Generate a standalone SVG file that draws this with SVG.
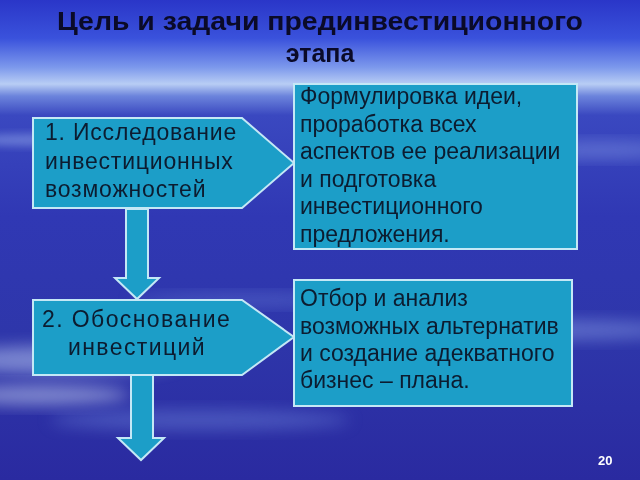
<svg xmlns="http://www.w3.org/2000/svg" width="640" height="480" viewBox="0 0 640 480">
<defs>
<linearGradient id="bg" x1="0" y1="0" x2="0" y2="1">
<stop offset="0" stop-color="#2a36c8"/>
<stop offset="0.08" stop-color="#3a52dc"/>
<stop offset="0.14" stop-color="#7c98ec"/>
<stop offset="0.175" stop-color="#b8cdf4"/>
<stop offset="0.2" stop-color="#6c84dc"/>
<stop offset="0.24" stop-color="#3a48c0"/>
<stop offset="0.45" stop-color="#3038b4"/>
<stop offset="0.7" stop-color="#2e36aa"/>
<stop offset="1" stop-color="#2a2aa0"/>
</linearGradient>
<filter id="blur" x="-50%" y="-50%" width="200%" height="200%"><feGaussianBlur stdDeviation="8"/></filter>
<filter id="blur2" x="-50%" y="-50%" width="200%" height="200%"><feGaussianBlur stdDeviation="4"/></filter>
<style>
.box{fill:#1c9ec8;stroke:#c4e8f6;stroke-width:2}
.t{font-family:"Liberation Sans",Arial,sans-serif;font-size:23px;fill:#0c1c30}
.w{letter-spacing:0.8px}
.w2{letter-spacing:1.4px}
.title{font-family:"Liberation Sans",Arial,sans-serif;font-size:25px;font-weight:bold;fill:#0a0a28;text-anchor:middle}
.num{font-family:"Liberation Sans",Arial,sans-serif;font-size:13px;font-weight:bold;fill:#ffffff}
</style>
</defs>
<rect width="640" height="480" fill="url(#bg)"/>
<g opacity="0.5">
<ellipse cx="60" cy="360" rx="120" ry="14" fill="#c8d8f8" filter="url(#blur)"/>
<ellipse cx="40" cy="395" rx="90" ry="10" fill="#d8e4fa" filter="url(#blur)"/>
<ellipse cx="560" cy="330" rx="120" ry="10" fill="#8aa0e8" filter="url(#blur)"/>
<ellipse cx="600" cy="150" rx="80" ry="8" fill="#8aa0e8" filter="url(#blur)"/>
<ellipse cx="30" cy="140" rx="60" ry="6" fill="#9ab0ee" filter="url(#blur2)"/>
<ellipse cx="250" cy="300" rx="120" ry="6" fill="#6a80d8" filter="url(#blur)"/>
<ellipse cx="200" cy="420" rx="150" ry="10" fill="#6a80d8" filter="url(#blur)"/>
</g>
<g id="title">
<text class="title" x="320" y="30" textLength="526" lengthAdjust="spacingAndGlyphs">Цель и задачи прединвестиционного</text>
<text class="title" x="320" y="62">этапа</text>
</g>
<g id="connectors">
<polygon class="box" points="126,209 148,209 148,278 159,278 137,299 115,278 126,278"/>
<polygon class="box" points="131,375 153,375 153,438 164,438 141,460 118,438 131,438"/>
</g>
<g id="node1">
<polygon class="box" points="33,118 242,118 294,163 242,208 33,208"/>
<text class="t w" x="45" y="140">1. Исследование</text>
<text class="t w" x="45" y="169">инвестиционных</text>
<text class="t w" x="45" y="197">возможностей</text>
</g>
<g id="node2">
<rect class="box" x="294" y="84" width="283" height="165"/>
<text class="t" x="300" y="104">Формулировка идеи,</text>
<text class="t" x="300" y="132">проработка всех</text>
<text class="t" x="300" y="159">аспектов ее реализации</text>
<text class="t" x="300" y="187">и подготовка</text>
<text class="t" x="300" y="214">инвестиционного</text>
<text class="t" x="300" y="242">предложения.</text>
</g>
<g id="node3">
<polygon class="box" points="33,300 242,300 294,337 242,375 33,375"/>
<text class="t w2" x="42" y="327">2. Обоснование</text>
<text class="t w2" x="68" y="355">инвестиций</text>
</g>
<g id="node4">
<rect class="box" x="294" y="280" width="278" height="126"/>
<text class="t" x="300" y="306">Отбор и анализ</text>
<text class="t" x="300" y="334">возможных альтернатив</text>
<text class="t" x="300" y="361">и создание адекватного</text>
<text class="t" x="300" y="388">бизнес – плана.</text>
</g>
<text class="num" x="598" y="465">20</text>
</svg>
